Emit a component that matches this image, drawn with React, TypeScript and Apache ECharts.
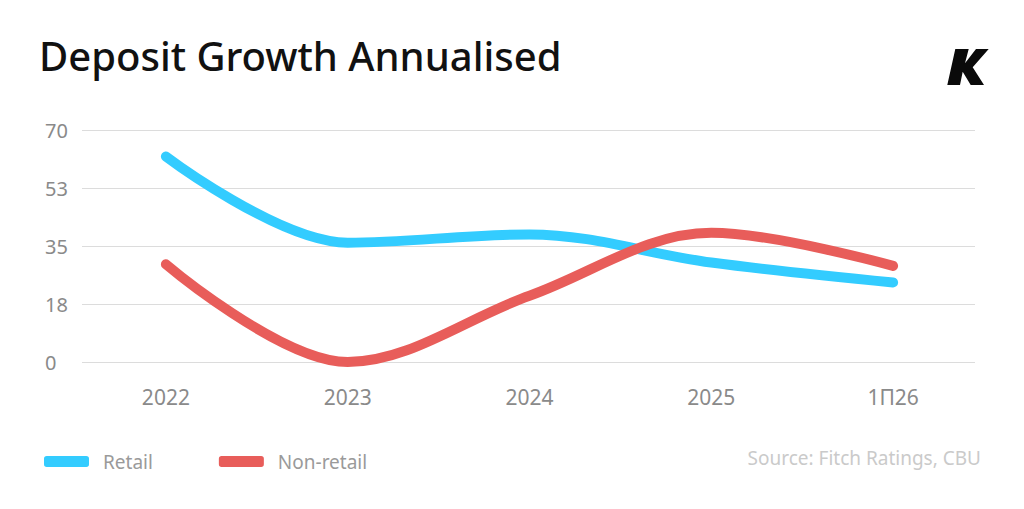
import { useEffect, useRef } from 'react'
import * as echarts from 'echarts'

const categories = ['2022', '2023', '2024', '2025', '1П26']
const retail = [62, 36, 38.5, 30, 24]
const nonRetail = [29.5, 0, 20, 39, 29]
const yMin = 0
const yMax = 70
const yStep = 17.5

const FONT = '"Noto Sans", sans-serif'

export default function App() {
  const chartRef = useRef<HTMLDivElement>(null)

  useEffect(() => {
    document.body.style.margin = '0'
    if (!chartRef.current) return
    const chart = echarts.init(chartRef.current, null, { renderer: 'svg' })

    chart.setOption({
      animation: false,
      backgroundColor: '#ffffff',
      textStyle: { fontFamily: FONT },
      title: {
        text: 'Deposit Growth Annualised',
        left: 34,
        top: 30,
        textStyle: { fontSize: 40, fontWeight: 500, color: '#111111', fontFamily: FONT }
      },
      legend: {
        left: 39,
        top: 447,
        icon: 'roundRect',
        itemWidth: 45,
        itemHeight: 11,
        itemGap: 66,
        textStyle: { fontSize: 19, color: '#9a9a9a', padding: [0, 0, 0, 9] },
        data: ['Retail', 'Non-retail']
      },
      grid: [
        { left: 82, right: 49, top: 130, bottom: 147 },
        { left: 75, right: 40, top: 130, bottom: 147 }
      ],
      xAxis: [
        { type: 'category', gridIndex: 0, data: categories, show: false },
        {
          type: 'category',
          gridIndex: 1,
          data: categories,
          boundaryGap: true,
          axisLine: { show: false },
          axisTick: { show: false },
          axisLabel: { margin: 24, fontSize: 21, color: '#8a8a8a' }
        }
      ],
      yAxis: [
        {
          type: 'value',
          gridIndex: 0,
          min: yMin,
          max: yMax,
          interval: yStep,
          axisLine: { show: false },
          axisTick: { show: false },
          splitLine: { lineStyle: { color: '#dcdcdc', width: 1.2 } },
          axisLabel: {
            align: 'left',
            margin: 37,
            fontSize: 20,
            color: '#8a8a8a',
            formatter: (v: number) => String(Math.round(v))
          }
        },
        {
          type: 'value',
          gridIndex: 1,
          min: yMin,
          max: yMax,
          interval: yStep,
          show: false,
          splitLine: { show: false }
        }
      ],
      series: [
        {
          name: 'Retail',
          type: 'line',
          xAxisIndex: 1,
          yAxisIndex: 1,
          data: retail,
          smooth: 0.35,
          showSymbol: false,
          color: '#33ccff',
          lineStyle: { width: 10, color: '#33ccff', cap: 'round' }
        },
        {
          name: 'Non-retail',
          type: 'line',
          xAxisIndex: 1,
          yAxisIndex: 1,
          data: nonRetail,
          smooth: 0.35,
          showSymbol: false,
          color: '#e85d5a',
          lineStyle: { width: 10, color: '#e85d5a', cap: 'round' }
        }
      ],
      graphic: [
        {
          type: 'text',
          right: 43,
          top: 448,
          style: { text: 'Source: Fitch Ratings, CBU', fontSize: 19, fill: '#cacaca', fontFamily: FONT }
        },
        {
          type: 'polygon',
          x: 946,
          y: 48,
          shape: {
            points: [
              [1.3, 37], [9.3, 1], [22.7, 1], [19, 15.3], [30, 1], [42.7, 1],
              [26.7, 19.3], [38, 37], [24.7, 37], [16.7, 23.7], [14, 37]
            ]
          },
          style: { fill: '#0a0a0a' }
        }
      ]
    })

    return () => {
      chart.dispose()
    }
  }, [])

  return <div ref={chartRef} style={{ width: 1024, height: 509 }} />
}
